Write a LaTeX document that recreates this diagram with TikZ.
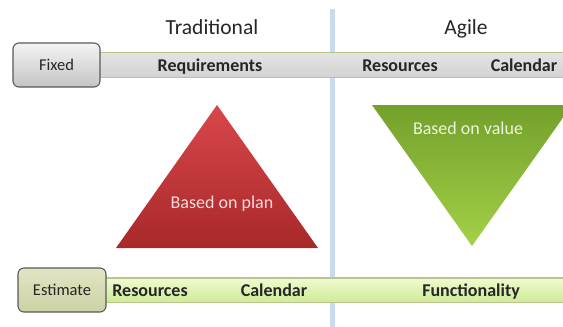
\documentclass[tikz,border=0pt]{standalone}
\usepackage{fontspec}
\setmainfont{Carlito}
\usetikzlibrary{shadings}
\definecolor{divider}{HTML}{C9DAEE}
\definecolor{barline}{HTML}{B9C48E}
\definecolor{greybarTop}{HTML}{E4E4E4}
\definecolor{greybarBot}{HTML}{D2D2D2}
\definecolor{greenbarTop}{HTML}{F0FAD0}
\definecolor{greenbarBot}{HTML}{CDEB96}
\definecolor{boxline}{HTML}{5A5A5A}
\definecolor{fixedTop}{HTML}{F4F4F4}
\definecolor{fixedBot}{HTML}{C4C4C4}
\definecolor{estTop}{HTML}{E2E5C4}
\definecolor{estBot}{HTML}{CCD1A4}
\definecolor{redTop}{HTML}{D9474A}
\definecolor{redBot}{HTML}{A8282A}
\definecolor{greenTop}{HTML}{73A02B}
\definecolor{greenBot}{HTML}{A3D148}
\definecolor{redtext}{HTML}{F5DCDC}
\definecolor{greentext}{HTML}{EEF5DC}
\definecolor{textdark}{HTML}{262626}
\begin{document}
\begin{tikzpicture}[x=1pt,y=-1pt,
  title/.style={font=\fontsize{21.5}{25}\selectfont, text=textdark, anchor=base},
  barlabel/.style={font=\bfseries\fontsize{18}{21}\selectfont, text=textdark, anchor=base},
  boxlabel/.style={font=\fontsize{16.5}{19}\selectfont, text=textdark},
  tritext/.style={font=\fontsize{18}{21}\selectfont, anchor=base},
  bar/.style={draw=barline, line width=1.4pt},
  labelbox/.style={draw=boxline, line width=1.1pt, rounded corners=6pt}]
\useasboundingbox (0,0) rectangle (563,327);
\fill[white] (0,0) rectangle (563,327);
% divider
\fill[divider] (329.5,9) rectangle (334.5,327);
% bars
\path[bar, top color=greybarTop, bottom color=greybarBot] (95,52.5) rectangle (566,77.5);
\path[bar, top color=greenbarTop, bottom color=greenbarBot] (100,278) rectangle (566,302.5);
% boxes
\node[labelbox, top color=fixedTop, bottom color=fixedBot, minimum width=87pt, minimum height=44pt, boxlabel] (fixed) at (56.5,65) {Fixed};
\node[labelbox, top color=estTop, bottom color=estBot, minimum width=88pt, minimum height=44pt, boxlabel] (est) at (62,290) {Estimate};
% titles
\node[title] (trad) at (212,34) {Traditional};
\node[title] (agile) at (466,34) {Agile};
% bar labels
\node[barlabel] (req) at (210,71) {Requirements};
\node[barlabel] (resA) at (400,71) {Resources};
\node[barlabel] (calA) at (524,71) {Calendar};
\node[barlabel] (resT) at (150,296) {Resources};
\node[barlabel] (calT) at (274,296) {Calendar};
\node[barlabel] (func) at (471,296) {Functionality};
% triangles
\path[top color=redTop, bottom color=redBot] (217,105) -- (318,248) -- (116,248) -- cycle;
\path[top color=greenTop, bottom color=greenBot] (372,105) -- (572,105) -- (472,246) -- cycle;
\node[tritext, text=redtext] (plan) at (222,208) {Based on plan};
\node[tritext, text=greentext] (value) at (468,134) {Based on value};
\end{tikzpicture}
\end{document}
